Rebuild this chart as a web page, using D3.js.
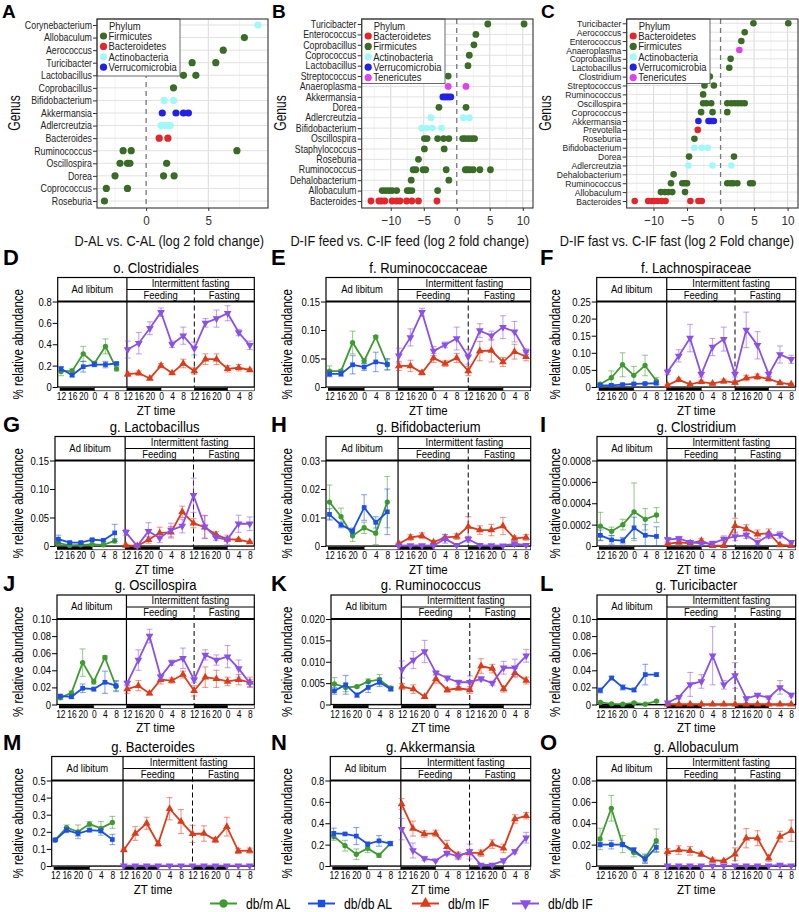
<!DOCTYPE html>
<html><head><meta charset="utf-8">
<script src="https://cdn.jsdelivr.net/npm/d3@7"></script>
<style>body{margin:0;background:#fff} svg{display:block} text{font-family:"Liberation Sans",Arial,Helvetica,sans-serif}</style>
</head><body><svg id="c" width="799" height="912"></svg>
<script>
// ---------------- DATA: dot plots ----------------
const genusA = ["Corynebacterium","Allobaculum","Aerococcus","Turicibacter","Lactobacillus","Coprobacillus","Bifidobacterium","Akkermansia","Adlercreutzia","Bacteroides","Ruminococcus","Oscillospira","Dorea","Coprococcus","Roseburia"];
const phylumA = ["Actinobacteria","Firmicutes","Firmicutes","Firmicutes","Firmicutes","Firmicutes","Actinobacteria","Verrucomicrobia","Actinobacteria","Bacteroidetes","Firmicutes","Firmicutes","Firmicutes","Firmicutes","Firmicutes"];
const fcA = [[9.0],[7.9],[6.2],[3.7,5.6],[3.0,4.0],[2.2],[1.45,2.2],[1.3,2.4,3.0,3.4],[1.2,1.45,1.7,1.95],[1.05,1.75],[-1.85,-1.2,7.3],[-2.1,-1.5,-1.3,1.65],[-2.5,1.4,2.25],[-3.2,-1.5],[-3.35]];

const genusB = ["Turicibacter","Enterococcus","Coprobacillus","Coprococcus","Lactobacillus","Streptococcus","Anaeroplasma","Akkermansia","Dorea","Adlercreutzia","Bifidobacterium","Oscillospira","Staphylococcus","Roseburia","Ruminococcus","Dehalobacterium","Allobaculum","Bacteroides"];
const phylumB = ["Firmicutes","Firmicutes","Firmicutes","Firmicutes","Firmicutes","Firmicutes","Tenericutes","Verrucomicrobia","Firmicutes","Actinobacteria","Actinobacteria","Firmicutes","Firmicutes","Firmicutes","Firmicutes","Firmicutes","Firmicutes","Bacteroidetes"];
const fcB = [[4.7,10.2],[2.9],[2.6],[1.9],[1.7],[-1.3],[-1.3,1.4],[-2.1,-1.8,-1.5,-1.2,-0.9],[-2.7,1.4],[-3.9,1.0,1.9],[-5.3,-4.6,-3.7,-2.3],[-4.9,-4.5,-2.9,-2.0,-1.2,0.9,1.3,1.8,2.3,2.7],[-4.9,-1.9],[-5.8],[-6.6,-6.2,-5.1,-4.7,-1.6,1.3,1.6,2.0,2.5,3.5,5.1],[-6.9,-1.2],[-11.3,-10.8,-10.3,-9.8,-9.1,-7.5,-7.2,-6.8,-2.9],[-13.0,-11.8,-11.4,-10.9,-9.8,-9.1,-8.6,-7.6,-6.8,-5.8,-3.0]];

const genusC = ["Turicibacter","Aerococcus","Enterococcus","Anaeroplasma","Coprobacillus","Lactobacillus","Clostridium","Streptococcus","Ruminococcus","Oscillospira","Coprococcus","Akkermansia","Prevotella","Roseburia","Bifidobacterium","Dorea","Adlercreutzia","Dehalobacterium","Ruminococcus","Allobaculum","Bacteroides"];
const phylumC = ["Firmicutes","Firmicutes","Firmicutes","Tenericutes","Firmicutes","Firmicutes","Firmicutes","Firmicutes","Firmicutes","Firmicutes","Firmicutes","Verrucomicrobia","Bacteroidetes","Firmicutes","Actinobacteria","Firmicutes","Actinobacteria","Firmicutes","Firmicutes","Firmicutes","Bacteroidetes"];
const fcC = [[4.9,10.1],[3.6],[3.1],[2.8],[1.5],[1.3],[-1.6],[-2.4,-1.0],[-2.6],[-2.6,-2.1,-1.4,1.0,1.6,2.1,2.6,3.1,3.6],[-2.9,-1.2,1.0],[-3.3,-1.8,-1.6,-1.3,-1.0],[-3.4],[-3.9],[-3.9,-2.8,-1.9],[-4.7,2.0],[-4.8,-1.2,1.6],[-7.0],[-7.4,-5.7,-5.3,-5.0,1.0,1.5,1.9,2.5,4.4,4.8],[-8.9,-8.3,-7.8,-7.2,-5.3],[-12.8,-10.8,-10.3,-9.9,-9.4,-8.8,-8.2,-4.5,-3.3,-2.8]];

const legendA = ["Firmicutes","Bacteroidetes","Actinobacteria","Verrucomicrobia"];
const legendBC = ["Bacteroidetes","Firmicutes","Actinobacteria","Verrucomicrobia","Tenericutes"];

// ---------------- DATA: time courses ----------------
const ztLabels = ["12","16","20","0","4","8"];
const groupNames = ["db/m AL","db/db AL","db/m IF","db/db IF"];

const clostridialesMean = [[0.146,0.15,0.31,0.22,0.38,0.17],[0.17,0.11,0.19,0.21,0.21,0.22],
 [0.12,0.13,0.08,0.20,0.13,0.22,0.15,0.26,0.26,0.17,0.18,0.16],[0.35,0.41,0.55,0.70,0.40,0.48,0.36,0.60,0.64,0.69,0.51,0.39]];
const clostridialesSE = [[0.04,0.02,0.07,0.02,0.07,0.02],[0.02,0.01,0.05,0.02,0.03,0.01],
 [0.02,0.02,0.01,0.02,0.01,0.04,0.03,0.05,0.05,0.03,0.03,0.01],[0.08,0.1,0.06,0.04,0.03,0.08,0.06,0.04,0.08,0.07,0.03,0.04]];
const ruminococcaceaeMean = [[0.028,0.028,0.078,0.046,0.088,0.039],[0.023,0.023,0.039,0.035,0.044,0.040],
 [0.037,0.037,0.025,0.051,0.041,0.051,0.028,0.063,0.064,0.044,0.062,0.053],[0.055,0.087,0.131,0.063,0.074,0.085,0.053,0.099,0.090,0.105,0.097,0.062]];
const ruminococcaceaeSE = [[0.009,0.003,0.02,0.004,0.002,0.009],[0.005,0.004,0.016,0.006,0.017,0.01],
 [0.008,0.01,0.004,0.008,0.005,0.008,0.008,0.017,0.02,0.008,0.013,0.007],[0.013,0.015,0.007,0.008,0.005,0.02,0.013,0.012,0.008,0.02,0.018,0.005]];
const lachnospiraceaeMean = [[0.008,0.027,0.065,0.034,0.063,0.018],[0.005,0.005,0.007,0.009,0.010,0.011],
 [0.005,0.021,0.008,0.015,0.010,0.017,0.013,0.026,0.030,0.024,0.012,0.008],[0.044,0.091,0.143,0.037,0.117,0.140,0.037,0.167,0.122,0.037,0.095,0.081]];
const lachnospiraceaeSE = [[0.005,0.02,0.035,0.026,0.03,0.01],[0.003,0.003,0.003,0.003,0.003,0.003],
 [0.003,0.005,0.003,0.005,0.003,0.006,0.006,0.008,0.008,0.007,0.004,0.003],[0.008,0.018,0.04,0.008,0.025,0.035,0.008,0.052,0.04,0.008,0.025,0.012]];
const lactobacillusMean = [[0.005,0.001,0.002,0.003,0.002,0.009],[0.012,0.006,0.006,0.011,0.010,0.023],
 [0.001,0.000,0.011,0.023,0.024,0.060,0.040,0.033,0.020,0.012,0.011,0.007],[0.024,0.000,0.026,0.014,0.028,0.035,0.089,0.034,0.015,0.011,0.039,0.039]];
const lactobacillusSE = [[0.003,0.001,0.001,0.001,0.001,0.004],[0.007,0.002,0.002,0.002,0.002,0.015],
 [0.002,0.001,0.006,0.01,0.01,0.01,0.008,0.02,0.005,0.004,0.002,0.001],[0.005,0.001,0.015,0.008,0.012,0.012,0.03,0.02,0.005,0.008,0.015,0.012]];
const bifidobacteriumMean = [[0.0154,0.0103,0.0036,0.0064,0.0045,0.0154],[0.0111,0.0074,0.0053,0.0135,0.0083,0.0120],
 [0.0008,0.0030,0.0036,0.0013,0.0030,0.0033,0.0068,0.0056,0.0056,0.0070,0.0027,0.0030],[0.0001,0.0002,0.0002,0.0001,0.0025,0.0003,0.0024,0.0003,0.0002,0.0001,0.0008,0.0003]];
const bifidobacteriumSE = [[0.006,0.003,0.002,0.002,0.004,0.009],[0.002,0.001,0.001,0.0045,0.002,0.008],
 [0.0005,0.001,0.001,0.0005,0.001,0.001,0.0035,0.0015,0.002,0.003,0.0008,0.001],[0.0002,0.0002,0.0002,0.0002,0.0015,0.0003,0.001,0.0003,0.0002,0.0002,0.0008,0.0003]];
const clostridiumMean = [[0.000185,0.000137,0.0002,0.00032,0.00025,0.00029],[0.0001,0.000057,0.00005,0.00017,0.0001,0.00009],
 [0.00002,0.000035,0.000025,0.00005,0.000003,0.000003,0.00019,0.00016,0.00011,0.00012,0.00001,0.000003],[0.00006,0.00007,0.000035,0.000025,0.000025,0.000065,0.00009,0.0001,0.000035,0.0001,0.000105,0.000035]];
const clostridiumSE = [[0.00013,0.00004,0.00005,0.00027,0.0001,0.00007],[0.00005,0.00004,0.00003,0.0001,0.0001,0.00009],
 [0.00001,0.00002,0.00002,0.00002,0.000003,0.000003,0.00007,0.00004,0.00004,0.00004,0.00001,0.000003],[0.00002,0.00002,0.00001,0.00001,0.00002,0.00003,0.00004,0.00003,0.00002,0.00003,0.00003,0.00001]];
const oscillospiraMean = [[0.0078,0.0137,0.049,0.0267,0.055,0.021],[0.0098,0.009,0.019,0.018,0.026,0.022],
 [0.018,0.022,0.013,0.029,0.028,0.035,0.016,0.032,0.030,0.027,0.029,0.026],[0.025,0.052,0.080,0.0325,0.049,0.054,0.029,0.058,0.052,0.056,0.042,0.025]];
const oscillospiraSE = [[0.002,0.002,0.016,0.003,0.002,0.006],[0.002,0.002,0.005,0.002,0.013,0.006],
 [0.005,0.006,0.002,0.005,0.003,0.004,0.006,0.012,0.01,0.005,0.006,0.006],[0.003,0.012,0.008,0.003,0.003,0.012,0.003,0.006,0.006,0.013,0.01,0.004]];
const ruminococcusMean = [[0.0048,0.004,0.0042,0.0054,0.0058,0.0038],[0.0032,0.0046,0.0022,0.004,0.0052,0.0036],
 [0.0042,0.0036,0.0018,0.006,0.0034,0.0038,0.0034,0.009,0.0084,0.0036,0.0074,0.0056],[0.0082,0.0104,0.0124,0.0074,0.0062,0.0052,0.0052,0.006,0.005,0.0086,0.0086,0.0114]];
const ruminococcusSE = [[0.0015,0.001,0.0003,0.0006,0.0012,0.0005],[0.0008,0.0022,0.0005,0.0012,0.001,0.0004],
 [0.0007,0.001,0.0003,0.001,0.0005,0.0004,0.0008,0.0017,0.001,0.0007,0.001,0.0008],[0.002,0.002,0.0026,0.0005,0.0005,0.0005,0.0015,0.0005,0.0005,0.0015,0.002,0.0015]];
const turicibacterMean = [[0.0024,0.0008,0.0004,0.002,0.0004,0.004],[0.0165,0.031,0.020,0.017,0.035,0.035],
 [0.0003,0.0003,0.0003,0.0003,0.0003,0.0003,0.0003,0.0003,0.0003,0.0003,0.0003,0.0003],[0.002,0.0086,0.0235,0.027,0.057,0.023,0.034,0.007,0.011,0.008,0.020,0.011]];
const turicibacterSE = [[0.001,0.0005,0.0005,0.001,0.0005,0.001],[0.003,0.002,0.003,0.002,0.012,0.002],
 [0.0002,0.0002,0.0002,0.0002,0.0002,0.0002,0.0002,0.0002,0.0002,0.0002,0.0002,0.0002],[0.001,0.002,0.014,0.008,0.034,0.005,0.015,0.002,0.001,0.002,0.008,0.002]];
const bacteroidesMean = [[0.152,0.225,0.20,0.245,0.22,0.255],[0.152,0.21,0.19,0.21,0.205,0.155],
 [0.094,0.19,0.25,0.13,0.335,0.26,0.188,0.19,0.152,0.23,0.088,0.09],[0.002,0.002,0.002,0.002,0.002,0.002,0.002,0.002,0.002,0.002,0.002,0.002]];
const bacteroidesSE = [[0.005,0.015,0.04,0.015,0.04,0.035],[0.005,0.015,0.015,0.01,0.01,0.03],
 [0.005,0.04,0.035,0.015,0.065,0.07,0.05,0.045,0.015,0.055,0.015,0.015],[0.001,0.001,0.001,0.001,0.001,0.001,0.001,0.001,0.001,0.001,0.001,0.001]];
const akkermansiaMean = [[0.28,0.19,0.11,0.165,0.10,0.21],[0.305,0.30,0.28,0.205,0.235,0.21],
 [0.58,0.35,0.30,0.305,0.18,0.10,0.125,0.12,0.205,0.165,0.44,0.47],[0.345,0.145,0.07,0.05,0.12,0.09,0.135,0.01,0.01,0.05,0.135,0.265]];
const akkermansiaSE = [[0.04,0.05,0.05,0.04,0.02,0.02],[0.05,0.01,0.08,0.02,0.05,0.02],
 [0.05,0.07,0.03,0.03,0.06,0.03,0.03,0.03,0.04,0.04,0.04,0.03],[0.1,0.07,0.02,0.01,0.02,0.03,0.07,0.01,0.01,0.02,0.02,0.05]];
const allobaculumMean = [[0.0253,0.054,0.0205,0.0126,0.0073,0.0237],[0.020,0.020,0.020,0.015,0.0063,0.0174],
 [0.0133,0.0149,0.0142,0.011,0.0054,0.0047,0.011,0.026,0.026,0.0073,0.0275,0.033],[0.0002,0.0002,0.0002,0.0002,0.0002,0.0002,0.0002,0.0002,0.0002,0.0002,0.001,0.0002]];
const allobaculumSE = [[0.01,0.012,0.008,0.004,0.004,0.011],[0.002,0.004,0.002,0.002,0.004,0.004],
 [0.003,0.004,0.004,0.002,0.002,0.001,0.006,0.009,0.007,0.003,0.005,0.01],[0.0002,0.0002,0.0002,0.0002,0.0002,0.0002,0.0002,0.0002,0.0002,0.0002,0.001,0.0002]];

const ticksD = ["0","0.2","0.4","0.6","0.8"], ticksE = ["0","0.05","0.10","0.15"], ticksF = ["0","0.05","0.10","0.15","0.20","0.25"];
const ticksG = ["0","0.05","0.10","0.15"], ticksH = ["0","0.01","0.02","0.03"], ticksI = ["0","0.0002","0.0004","0.0006","0.0008"];
const ticksJ = ["0","0.02","0.04","0.06","0.08","0.10"], ticksK = ["0","0.005","0.010","0.015","0.020"], ticksL = ["0","0.02","0.04","0.06","0.08","0.10"];
const ticksM = ["0","0.1","0.2","0.3","0.4","0.5"], ticksN = ["0","0.2","0.4","0.6","0.8"], ticksO = ["0","0.02","0.04","0.06","0.08"];

// ---------------- STYLE / LAYOUT ----------------
const FONT = '"Liberation Sans",Arial,Helvetica,sans-serif';
const phylumColor = {Firmicutes:"#3a6b27", Bacteroidetes:"#e3262b", Actinobacteria:"#a0f8f8", Verrucomicrobia:"#2222e6", Tenericutes:"#e040ee"};
const seriesStyle = [
  {color:"#3e9b2f", sym:d3.symbolCircle, size:22, rot:0},
  {color:"#1c4fe3", sym:d3.symbolSquare, size:22, rot:0},
  {color:"#db3c1c", sym:d3.symbolTriangle, size:26, rot:0},
  {color:"#8a50e8", sym:d3.symbolTriangle, size:26, rot:180}
];
const svg = d3.select("#c");

function T(parent, x, y, str, o = {}) {
  const t = parent.append("text")
    .attr("transform", `translate(${x},${y})` + (o.rot ? ` rotate(${o.rot})` : "") + ` scale(${o.sx || 1},1)`)
    .attr("text-anchor", o.anchor || "start")
    .attr("font-size", o.size || 11)
    .attr("font-family", FONT)
    .attr("fill", o.fill || "#000")
    .text(str);
  if (o.weight) t.attr("font-weight", o.weight);
  return t;
}

// ---------------- DOT PLOTS ----------------
const dotPanels = [
  {L:97, R:268, T:19, B:208, dom:[-3.95,9.8], rows:[25,201], genus:genusA, phylum:phylumA, fc:fcA, legend:legendA, legW:83, legH:57,
   letter:"A", lx:2, title:"D-AL vs. C-AL (log 2 fold change)", fs:10.5, sx:0.84, r:3.6, gx:15, ticks:[0,5]},
  {L:361.7, R:533, T:19, B:208, dom:[-14.4,11.55], rows:[24,201], genus:genusB, phylum:phylumB, fc:fcB, legend:legendBC, legW:83.3, legH:64.5,
   letter:"B", lx:272, title:"D-IF feed vs. C-IF feed (log 2 fold change)", fs:10, sx:0.88, r:3.4, gx:281, ticks:[-10,-5,0,5,10]},
  {L:626.7, R:798, T:19, B:208, dom:[-14.0,11.55], rows:[23.3,201], genus:genusC, phylum:phylumC, fc:fcC, legend:legendBC, legW:83.3, legH:64.5,
   letter:"C", lx:541, title:"D-IF fast vs. C-IF fast (log 2 Fold change)", fs:9.5, sx:0.9, r:3.3, gx:546, ticks:[-10,-5,0,5,10]}
];

dotPanels.forEach(p => {
  const g = svg.append("g");
  const x = d3.scaleLinear().domain(p.dom).range([p.L, p.R]);
  const y = d3.scalePoint().domain(d3.range(p.genus.length)).range(p.rows);
  g.append("rect").attr("x", p.L).attr("y", p.T).attr("width", p.R - p.L).attr("height", p.B - p.T).attr("fill", "#fff");
  const gstart = Math.ceil(p.dom[0] / 2.5) * 2.5;
  for (let v = gstart; v <= p.dom[1]; v += 2.5) {
    if (Math.abs(v) < 1e-9) continue;
    const major = Math.abs(v % 5) < 1e-9;
    g.append("line").attr("x1", x(v)).attr("x2", x(v)).attr("y1", p.T).attr("y2", p.B)
      .attr("stroke", major ? "#dcdcdc" : "#ececec").attr("stroke-width", major ? 1.1 : 0.7);
  }
  p.genus.forEach((_, i) => g.append("line").attr("x1", p.L).attr("x2", p.R).attr("y1", y(i)).attr("y2", y(i))
    .attr("stroke", "#e2e2e2").attr("stroke-width", 1));
  g.append("line").attr("x1", x(0)).attr("x2", x(0)).attr("y1", p.T).attr("y2", p.B)
    .attr("stroke", "#777").attr("stroke-width", 1.3).attr("stroke-dasharray", "5,4");
  p.fc.forEach((vals, i) => vals.forEach(v => g.append("circle").attr("cx", x(v)).attr("cy", y(i)).attr("r", p.r)
    .attr("fill", phylumColor[p.phylum[i]])));
  g.append("rect").attr("x", p.L).attr("y", p.T).attr("width", p.legW).attr("height", p.legH)
    .attr("fill", "#fff").attr("stroke", "#6a6a6a").attr("stroke-width", 1);
  T(g, p.L + 12, p.T + 10.5, "Phylum", {size:11, sx:0.86, fill:"#222"});
  p.legend.forEach((ph, i) => {
    const yy = p.T + 17 + i * 10.4;
    g.append("circle").attr("cx", p.L + 6.5).attr("cy", yy).attr("r", 3.6).attr("fill", phylumColor[ph]);
    T(g, p.L + 11.5, yy + 3.8, ph, {size:11, sx:0.86, fill:"#222"});
  });
  g.append("rect").attr("x", p.L).attr("y", p.T).attr("width", p.R - p.L).attr("height", p.B - p.T)
    .attr("fill", "none").attr("stroke", "#333").attr("stroke-width", 1.1);
  const ya = g.append("g").attr("transform", `translate(${p.L},0)`)
    .call(d3.axisLeft(y).tickFormat(i => p.genus[i]).tickSize(4).tickPadding(2));
  ya.select(".domain").remove();
  ya.selectAll("line").attr("stroke", "#333");
  ya.selectAll("text").attr("font-size", p.fs).attr("font-family", FONT).attr("fill", "#222")
    .attr("transform", `scale(${p.sx},1)`);
  const xa = g.append("g").attr("transform", `translate(0,${p.B})`)
    .call(d3.axisBottom(x).tickValues(p.ticks).tickFormat(d3.format("d")).tickSize(3).tickPadding(4));
  xa.select(".domain").remove();
  xa.selectAll("line").attr("stroke", "#333");
  xa.selectAll("text").attr("font-size", 13).attr("font-family", FONT).attr("fill", "#333")
    .attr("transform", "scale(0.9,1)").attr("dy", "0.75em");
  T(g, p.R - 4, 246, p.title, {size:15, sx:0.85, anchor:"end", fill:"#111"});
  T(g, p.gx + 5, 113, "Genus", {size:16, sx:0.75, anchor:"middle", rot:-90, fill:"#111"});
  T(g, p.lx, 18, p.letter, {size:19, weight:"bold"});
});

// ---------------- TIME COURSE PANELS ----------------
const rowHeaderTop = [277.5, 436.5, 595, 756.5];
const rowLetterBase = [265, 431.5, 591, 750];
const colLetterX = [3, 271, 540];
const colYTitleX = [18, 287, 555];
const colRight = [254.3, 530.7, 795.7];

const linePanels = [
  {row:0,col:0,L:57.7, letter:"D", title:"o. Clostridiales",  mean:clostridialesMean,  se:clostridialesSE,  ticks:ticksD},
  {row:0,col:1,L:326,  letter:"E", title:"f. Ruminococcaceae", mean:ruminococcaceaeMean, se:ruminococcaceaeSE, ticks:ticksE},
  {row:0,col:2,L:596.7,letter:"F", title:"f. Lachnospiraceae", mean:lachnospiraceaeMean, se:lachnospiraceaeSE, ticks:ticksF},
  {row:1,col:0,L:55,   letter:"G", title:"g. Lactobacillus",  mean:lactobacillusMean,  se:lactobacillusSE,  ticks:ticksG},
  {row:1,col:1,L:326,  letter:"H", title:"g. Bifidobacterium", mean:bifidobacteriumMean, se:bifidobacteriumSE, ticks:ticksH},
  {row:1,col:2,L:597,  letter:"I", title:"g. Clostridium",    mean:clostridiumMean,    se:clostridiumSE,    ticks:ticksI},
  {row:2,col:0,L:57,   letter:"J", title:"g. Oscillospira",   mean:oscillospiraMean,   se:oscillospiraSE,   ticks:ticksJ},
  {row:2,col:1,L:331,  letter:"K", title:"g. Ruminococcus",   mean:ruminococcusMean,   se:ruminococcusSE,   ticks:ticksK},
  {row:2,col:2,L:597,  letter:"L", title:"g. Turicibacter",   mean:turicibacterMean,   se:turicibacterSE,   ticks:ticksL},
  {row:3,col:0,L:51.7, letter:"M", title:"g. Bacteroides",    mean:bacteroidesMean,    se:bacteroidesSE,    ticks:ticksM},
  {row:3,col:1,L:330.3,letter:"N", title:"g. Akkermansia",    mean:akkermansiaMean,    se:akkermansiaSE,    ticks:ticksN},
  {row:3,col:2,L:596.7,letter:"O", title:"g. Allobaculum",    mean:allobaculumMean,    se:allobaculumSE,    ticks:ticksO}
];

function sym(s, size) {
  return d3.symbol().type(s.sym).size(size || s.size)();
}

linePanels.forEach(p => {
  const g = svg.append("g");
  const L = p.L, R = colRight[p.col];
  const top = rowHeaderTop[p.row], pt = top + 24, zero = pt + 85.5, mid = top + 12;
  const x = d3.scaleLinear().domain([-0.3, 17.4]).range([L, R]);
  const vals = p.ticks.map(Number);
  const y = d3.scaleLinear().domain([0, vals[vals.length - 1]]).range([zero, pt]);
  const div = x(5.93), dsh = x(12);

  T(g, (L + R) / 2, top - 5, p.title, {size:15, sx:0.87, anchor:"middle"});
  T(g, colLetterX[p.col], rowLetterBase[p.row], p.letter, {size:22, weight:"bold"});

  T(g, (L + div) / 2, top + 15, "Ad libitum", {size:11, sx:0.86, anchor:"middle"});
  T(g, (div + R) / 2, top + 9, "Intermittent fasting", {size:11, sx:0.86, anchor:"middle"});
  T(g, (div + dsh) / 2, top + 21, "Feeding", {size:11, sx:0.86, anchor:"middle"});
  T(g, (dsh + R) / 2, top + 21, "Fasting", {size:11, sx:0.86, anchor:"middle"});

  g.append("rect").attr("x", L).attr("y", top).attr("width", R - L).attr("height", zero - top)
    .attr("fill", "none").attr("stroke", "#000").attr("stroke-width", 1.2);
  g.append("line").attr("x1", L).attr("x2", R).attr("y1", pt).attr("y2", pt).attr("stroke", "#000").attr("stroke-width", 2);
  g.append("line").attr("x1", div).attr("x2", div).attr("y1", top).attr("y2", zero).attr("stroke", "#000").attr("stroke-width", 1.2);
  g.append("line").attr("x1", div).attr("x2", R).attr("y1", mid).attr("y2", mid).attr("stroke", "#000").attr("stroke-width", 1);
  g.append("line").attr("x1", dsh).attr("x2", dsh).attr("y1", mid).attr("y2", zero).attr("stroke", "#000")
    .attr("stroke-width", 1).attr("stroke-dasharray", "5,3");

  const bars = [[L + 2, x(3), 1], [x(3), div, 0], [div, x(9), 1], [x(9), dsh, 0], [dsh, x(15), 1], [x(15), R, 0]];
  bars.forEach(b => g.append("rect").attr("x", b[0]).attr("y", zero + 0.6).attr("width", b[1] - b[0]).attr("height", 3.2)
    .attr("fill", b[2] ? "#000" : "#fff").attr("stroke", b[2] ? "none" : "#000").attr("stroke-width", 0.6));

  const ya = g.append("g").attr("transform", `translate(${L},0)`)
    .call(d3.axisLeft(y).tickValues(vals).tickFormat((d, i) => p.ticks[i]).tickSize(5).tickPadding(2));
  ya.select(".domain").remove();
  ya.selectAll("line").attr("stroke", "#000");
  ya.selectAll("text").attr("font-size", 11).attr("font-family", FONT).attr("fill", "#000").attr("transform", "scale(0.86,1)");

  const xa = g.append("g").attr("transform", `translate(0,${zero})`)
    .call(d3.axisBottom(x).tickValues(d3.range(18)).tickFormat(i => ztLabels[i % 6]).tickSize(0).tickPadding(6));
  xa.select(".domain").remove();
  xa.selectAll("text").attr("font-size", 10.3).attr("font-family", FONT).attr("fill", "#000").attr("transform", "scale(0.82,1)");
  T(g, (L + R) / 2, zero + 27.5, "ZT time", {size:13.5, sx:0.85, anchor:"middle"});
  T(g, colYTitleX[p.col] + 5, (pt + zero) / 2, "% relative abundance", {size:14, sx:0.82, anchor:"middle", rot:-90});

  p.mean.forEach((arr, s) => {
    const st = seriesStyle[s];
    const off = s < 2 ? 0 : 6;
    const pts = arr.map((v, i) => ({x: x(i + off), v, e: p.se[s][i]}));
    const eg = g.append("g").attr("stroke", st.color).attr("stroke-opacity", 0.5).attr("stroke-width", 1.1);
    pts.forEach(d => {
      const y1 = y(Math.max(0, d.v - d.e)), y2 = y(d.v + d.e);
      eg.append("line").attr("x1", d.x).attr("x2", d.x).attr("y1", y1).attr("y2", y2);
      eg.append("line").attr("x1", d.x - 3).attr("x2", d.x + 3).attr("y1", y1).attr("y2", y1);
      eg.append("line").attr("x1", d.x - 3).attr("x2", d.x + 3).attr("y1", y2).attr("y2", y2);
    });
    g.append("path").datum(pts).attr("fill", "none").attr("stroke", st.color).attr("stroke-width", 1.8)
      .attr("d", d3.line().x(d => d.x).y(d => y(d.v)));
    pts.forEach(d => g.append("path").attr("d", sym(st))
      .attr("transform", `translate(${d.x},${y(d.v)}) rotate(${st.rot})`).attr("fill", st.color));
  });
});

// ---------------- BOTTOM LEGEND ----------------
const legX = [210, 308, 412, 512];
groupNames.forEach((name, i) => {
  const st = seriesStyle[i], x0 = legX[i], yy = 903.5;
  svg.append("line").attr("x1", x0).attr("x2", x0 + 27).attr("y1", yy).attr("y2", yy).attr("stroke", st.color).attr("stroke-width", 2);
  svg.append("path").attr("d", sym(st, 55)).attr("transform", `translate(${x0 + 13.5},${yy}) rotate(${st.rot})`).attr("fill", st.color);
  T(svg, x0 + 36, yy + 5, name, {size:14.5, sx:0.84});
});
</script></body></html>
